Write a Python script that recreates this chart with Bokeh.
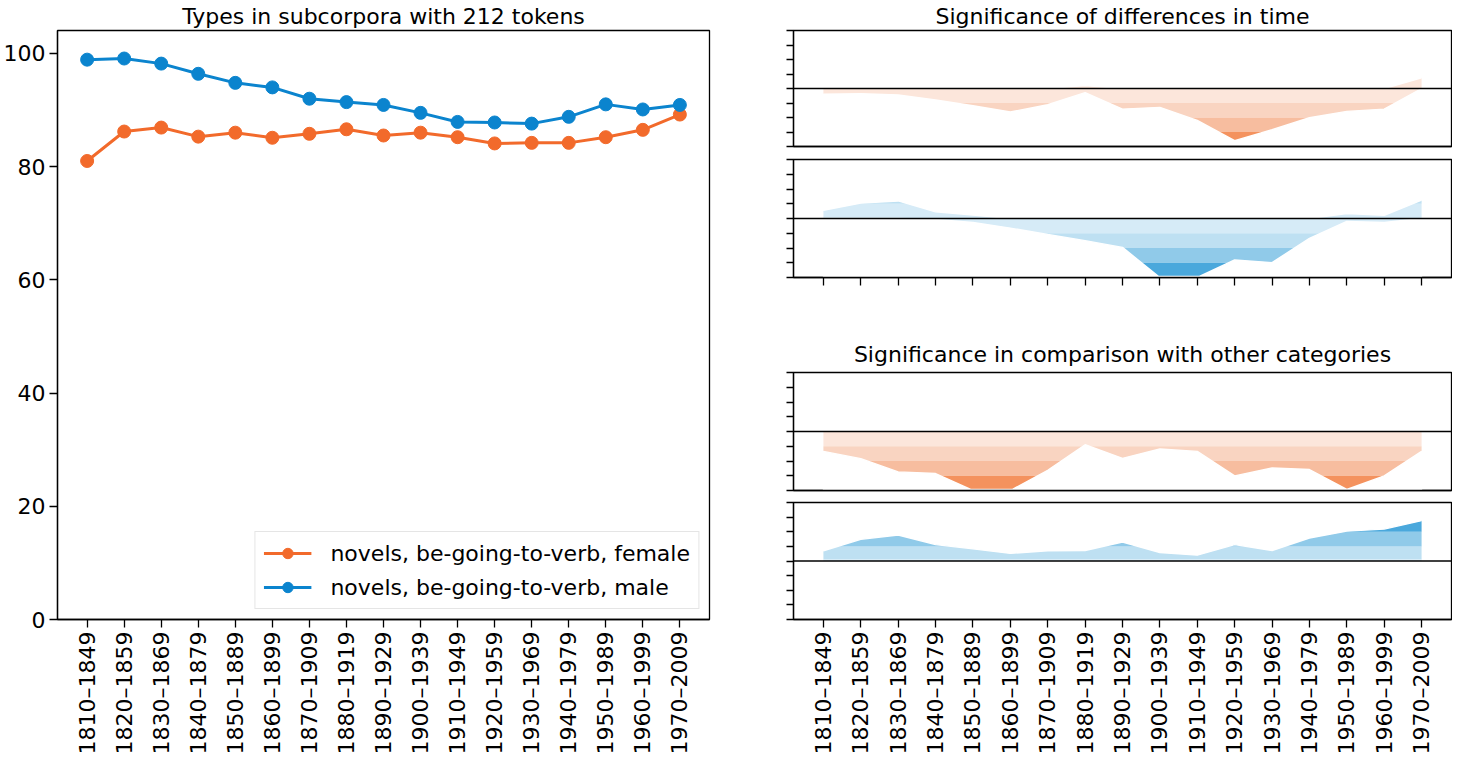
import math
from bokeh.plotting import figure
from bokeh.models import Range1d, FixedTicker, Span
from bokeh.layouts import row, column
from bokeh.embed import file_html
from bokeh.resources import INLINE

# ---------------- data ----------------
periods = ["1810–1849", "1820–1859", "1830–1869", "1840–1879", "1850–1889",
           "1860–1899", "1870–1909", "1880–1919", "1890–1929", "1900–1939",
           "1910–1949", "1920–1959", "1930–1969", "1940–1979", "1950–1989",
           "1960–1999", "1970–2009"]

female_types = [81.0, 86.2, 86.9, 85.3, 86.0, 85.1, 85.8, 86.6, 85.5, 86.0,
                85.2, 84.1, 84.2, 84.2, 85.2, 86.5, 89.2]
male_types = [98.9, 99.1, 98.2, 96.4, 94.8, 94.0, 92.0, 91.4, 90.9, 89.5,
              87.9, 87.8, 87.6, 88.8, 91.0, 90.1, 90.9]

# significance of differences in time (positive / negative parts)
time_female_pos = [0, 0, 0, 0, 0, 0, 0, 0.2, 0, 0, 0, 0, 0, 0, 0, 0, 0.74]
time_female_neg = [-0.40, -0.36, -0.45, -0.79, -1.19, -1.62, -1.12, -0.29, -1.42,
                   -1.30, -2.20, -3.60, -2.84, -2.02, -1.58, -1.42, 0]
time_male_pos = [0.56, 1.04, 1.19, 0.45, 0.24, 0, 0, 0, 0, 0, 0, 0, 0, 0,
                 0.34, 0.22, 1.24]
time_male_neg = [0, 0, 0, -0.07, -0.27, -0.65, -1.08, -1.50, -1.96, -4.0,
                 -4.0, -2.81, -2.99, -1.35, -0.20, -0.27, 0]

# significance in comparison with other categories
cat_female_pos = [0, 0, 0, 0, 0, 0, 0, 0, 0, 0, 0, 0, 0, 0, 0, 0, 0]
cat_female_neg = [-1.35, -1.84, -2.74, -2.85, -4.0, -4.0, -2.63, -0.90, -1.82,
                  -1.19, -1.35, -3.01, -2.47, -2.58, -3.93, -3.01, -1.35]
cat_male_pos = [0.70, 1.48, 1.78, 1.12, 0.83, 0.52, 0.70, 0.72, 1.30, 0.58,
                0.40, 1.12, 0.72, 1.57, 2.04, 2.18, 2.76]
cat_male_neg = [0, 0, 0, 0, 0, 0, 0, 0, 0, 0, 0, 0, 0, 0, 0, 0, 0]

# ---------------- style ----------------
FONT = "DejaVu Sans"
ORANGE = "#F26A2B"
BLUE = "#0B84CE"
ORANGE_BANDS = ["#FCE6DB", "#F9D4C1", "#F7BD9F", "#F4925E"]
BLUE_BANDS = ["#D6EBF7", "#BEE0F2", "#90CAE9", "#4AA8DC"]

x = list(range(len(periods)))
n = len(x)
pad = 0.05 * (n - 1)
label_map = {i: s for i, s in enumerate(periods)}


def style_axis(ax, tick_out=8, standoff=8):
    ax.major_label_text_font = FONT
    ax.major_label_text_font_size = "22px"
    ax.major_label_text_color = "black"
    ax.axis_line_color = "black"
    ax.axis_line_width = 1.3
    ax.major_tick_line_color = "black"
    ax.major_tick_line_width = 1.3
    ax.major_tick_out = tick_out
    ax.major_tick_in = 0
    ax.minor_tick_line_color = None
    ax.major_label_standoff = standoff
    ax.axis_label_standoff = 0


def style_title(f, standoff):
    f.title.text_font = FONT
    f.title.text_font_size = "22px"
    f.title.text_font_style = "normal"
    f.title.text_color = "black"
    f.title.align = "center"
    f.title.standoff = standoff


# ---------------- left chart ----------------
p = figure(width=752, height=757,
           x_range=Range1d(-pad, (n - 1) + pad), y_range=Range1d(0, 104.05),
           output_backend="svg", toolbar_location=None,
           min_border_left=54, min_border_right=43,
           min_border_top=29, min_border_bottom=137,
           title="Types in subcorpora with 212 tokens")
style_title(p, 3)
p.grid.visible = False
p.outline_line_color = "black"
p.outline_line_width = 1.3
p.outline_line_alpha = 1.0

p.line(x, female_types, line_width=3, color=ORANGE,
       legend_label="novels, be-going-to-verb, female")
p.scatter(x, female_types, size=13, color=ORANGE,
          legend_label="novels, be-going-to-verb, female")
p.line(x, male_types, line_width=3, color=BLUE,
       legend_label="novels, be-going-to-verb, male")
p.scatter(x, male_types, size=13, color=BLUE,
          legend_label="novels, be-going-to-verb, male")

p.xaxis.ticker = FixedTicker(ticks=x)
p.xaxis.major_label_overrides = label_map
p.xaxis.major_label_orientation = math.pi / 2
p.yaxis.ticker = FixedTicker(ticks=[0, 20, 40, 60, 80, 100])
style_axis(p.xaxis[0], 8, 4)
style_axis(p.yaxis[0], 8, 4)

leg = p.legend[0]
leg.location = "bottom_right"
leg.margin = 10
leg.padding = 8
leg.spacing = 8
leg.label_text_font = FONT
leg.label_text_font_size = "22px"
leg.label_text_color = "black"
leg.glyph_width = 48
leg.glyph_height = 26
leg.label_height = 26
leg.label_standoff = 19
leg.border_line_color = "#cccccc"
leg.border_line_width = 1
leg.background_fill_alpha = 0.8


# ---------------- right panels ----------------
def draw_side(f, vals, bands, sign):
    peak = max(abs(v) for v in vals)
    if peak <= 0:
        return
    used = [b for b in bands if b[0] < peak]
    edge = min(used[-1][1], peak, 3.93)
    for lo, hi, color in used:
        hi = min(hi, edge)
        f.varea(x=x, y1=[sign * lo] * n, y2=[sign * hi] * n,
                fill_color=color, fill_alpha=1.0)
    # white mask beyond the curve, with a stroke to hide anti-alias seams
    mx = x + x[::-1]
    my = list(vals) + [sign * edge] * n
    f.patch(mx, my, fill_color="white", fill_alpha=1.0,
            line_color="white", line_width=1.4)


def band_spec(colors):
    return [(0, 1, colors[0]), (1, 2, colors[1]), (2, 3, colors[2]), (3, 4, colors[3])]


def panel(pos, neg, pos_bands, neg_bands, height, top, bottom,
          title=None, xmode="none", title_standoff=3):
    kw = dict(width=700, height=height,
              x_range=Range1d(-pad, (n - 1) + pad), y_range=Range1d(-4, 4),
              output_backend="svg", toolbar_location=None,
              min_border_left=41, min_border_right=1,
              min_border_top=top, min_border_bottom=bottom)
    if title:
        kw["title"] = title
    f = figure(**kw)
    if title:
        style_title(f, title_standoff)
    f.grid.visible = False
    f.outline_line_color = "black"
    f.outline_line_width = 1.3
    f.outline_line_alpha = 1.0

    draw_side(f, pos, pos_bands, 1)
    draw_side(f, neg, neg_bands, -1)
    f.add_layout(Span(location=0, dimension="width", line_color="black",
                      line_width=1.6))

    f.yaxis.ticker = FixedTicker(ticks=[-4, -3, -2, -1, 0, 1, 2, 3, 4])
    f.yaxis.major_label_overrides = {t: "" for t in [-4, -3, -2, -1, 0, 1, 2, 3, 4]}
    style_axis(f.yaxis[0], 7, 2)

    f.xaxis.ticker = FixedTicker(ticks=x)
    if xmode == "none":
        # only the bottom spine, no ticks or labels
        f.xaxis.major_label_overrides = {i: "" for i in x}
        style_axis(f.xaxis[0], 0, 0)
        f.xaxis.major_tick_line_color = None
    elif xmode == "ticks":
        f.xaxis.major_label_overrides = {i: "" for i in x}
        style_axis(f.xaxis[0], 8, 2)
    else:
        f.xaxis.major_label_overrides = label_map
        f.xaxis.major_label_orientation = math.pi / 2
        style_axis(f.xaxis[0], 8, 4)
    return f


p4_bands = [(0, 0.12, BLUE_BANDS[0]), (0.12, 1, BLUE_BANDS[1]),
            (1, 2, BLUE_BANDS[2]), (2, 3, BLUE_BANDS[3]), (3, 4, BLUE_BANDS[3])]

f1 = panel(time_female_pos, time_female_neg, band_spec(ORANGE_BANDS), band_spec(ORANGE_BANDS),
           152, 28, 6, title="Significance of differences in time", xmode="none",
           title_standoff=3)
f2 = panel(time_male_pos, time_male_neg, band_spec(BLUE_BANDS), band_spec(BLUE_BANDS),
           175, 7, 50, xmode="ticks")
f3 = panel(cat_female_pos, cat_female_neg, band_spec(ORANGE_BANDS), band_spec(ORANGE_BANDS),
           169, 45, 6, title="Significance in comparison with other categories",
           xmode="none", title_standoff=12)
f4 = panel(cat_male_pos, cat_male_neg, p4_bands, band_spec(BLUE_BANDS),
           261, 6, 137, xmode="labels")

layout = row(p, column(f1, f2, f3, f4, spacing=0), spacing=0)

with open("out.html", "w") as fh:
    fh.write(file_html(layout, INLINE))
